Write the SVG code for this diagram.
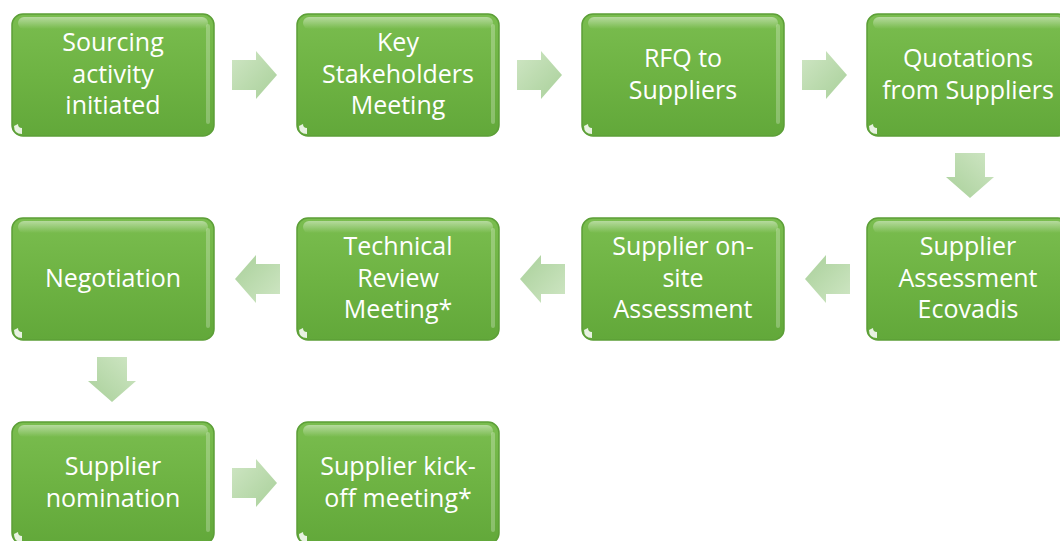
<svg xmlns="http://www.w3.org/2000/svg" width="1060" height="541" viewBox="0 0 1060 541">
<defs>
<linearGradient id="boxg" x1="0" y1="0" x2="0" y2="1">
<stop offset="0" stop-color="#7abd4f"/>
<stop offset="0.5" stop-color="#6eb343"/>
<stop offset="1" stop-color="#62a83a"/>
</linearGradient>
<linearGradient id="hl" x1="0" y1="0" x2="0" y2="1">
<stop offset="0" stop-color="#ffffff" stop-opacity="0.45"/>
<stop offset="1" stop-color="#ffffff" stop-opacity="0"/>
</linearGradient>
<linearGradient id="arr" x1="0" y1="0" x2="1" y2="1">
<stop offset="0" stop-color="#cfe6c4"/>
<stop offset="1" stop-color="#a9d09a"/>
</linearGradient>
<g id="box">
<rect x="0" y="0" width="202" height="122" rx="11" fill="url(#boxg)" stroke="#5c9f37" stroke-width="1.5"/>
<rect x="6" y="3" width="190" height="12" rx="6" fill="url(#hl)"/>
<rect x="194" y="10" width="4" height="100" rx="2" fill="#ffffff" opacity="0.25"/>
<path d="M2,112 Q2,120 10,120 L10,114 Q6,114 6,110 Z" fill="#ffffff" opacity="0.85"/>
</g>
<path id="ar" d="M0,-15 L24,-15 L24,-24 L45,0 L24,24 L24,15 L0,15 Z" fill="url(#arr)"/>
</defs>
<style>
text{font-family:"Open Sans","Liberation Sans",sans-serif;font-size:25px;fill:#ffffff;text-anchor:middle}
</style>
<rect width="1060" height="541" fill="#ffffff"/>
<g id="connectors">
<use href="#ar" transform="translate(232,75)"/>
<use href="#ar" transform="translate(517,75)"/>
<use href="#ar" transform="translate(802,75)"/>
<use href="#ar" transform="translate(970,153) rotate(90)"/>
<use href="#ar" transform="translate(850,279) rotate(180)"/>
<use href="#ar" transform="translate(565,279) rotate(180)"/>
<use href="#ar" transform="translate(280,279) rotate(180)"/>
<use href="#ar" transform="translate(112,357) rotate(90)"/>
<use href="#ar" transform="translate(232,483)"/>
</g>
<g id="n1"><use href="#box" x="12" y="14"/><text x="113" y="51">Sourcing</text><text x="113" y="83">activity</text><text x="113" y="114">initiated</text></g>
<g id="n2"><use href="#box" x="297" y="14"/><text x="398" y="51">Key</text><text x="398" y="83">Stakeholders</text><text x="398" y="114">Meeting</text></g>
<g id="n3"><use href="#box" x="582" y="14"/><text x="683" y="67">RFQ to</text><text x="683" y="99">Suppliers</text></g>
<g id="n4"><use href="#box" x="867" y="14"/><text x="968" y="67">Quotations</text><text x="968" y="99">from Suppliers</text></g>
<g id="n5"><use href="#box" x="867" y="218"/><text x="968" y="255">Supplier</text><text x="968" y="287">Assessment</text><text x="968" y="318">Ecovadis</text></g>
<g id="n6"><use href="#box" x="582" y="218"/><text x="683" y="255">Supplier on-</text><text x="683" y="287">site</text><text x="683" y="318">Assessment</text></g>
<g id="n7"><use href="#box" x="297" y="218"/><text x="398" y="255">Technical</text><text x="398" y="287">Review</text><text x="398" y="318">Meeting*</text></g>
<g id="n8"><use href="#box" x="12" y="218"/><text x="113" y="287">Negotiation</text></g>
<g id="n9"><use href="#box" x="12" y="422"/><text x="113" y="475">Supplier</text><text x="113" y="507">nomination</text></g>
<g id="n10"><use href="#box" x="297" y="422"/><text x="398" y="475">Supplier kick-</text><text x="398" y="507">off meeting*</text></g>
</svg>
